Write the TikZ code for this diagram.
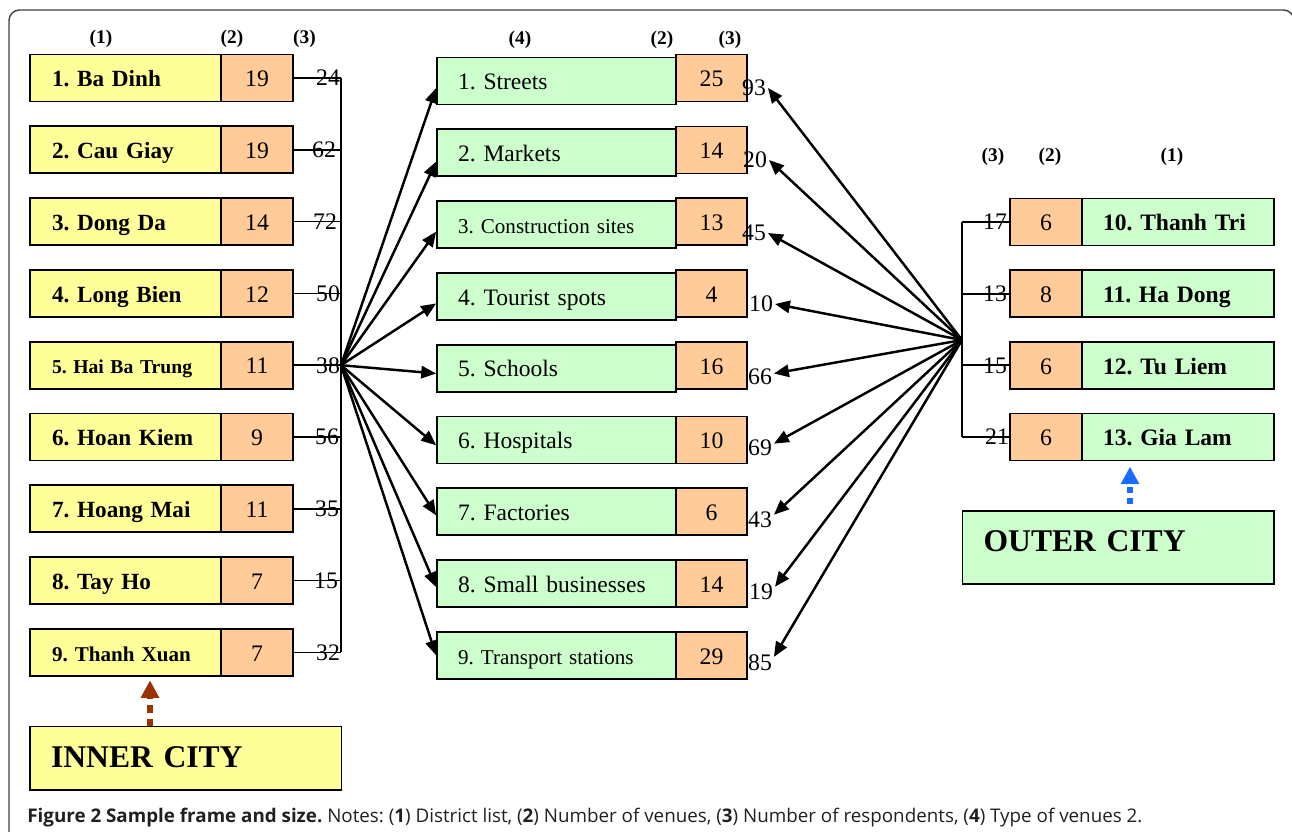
\documentclass[tikz,border=0pt]{standalone}
\usepackage{fontspec}
\setmainfont{Liberation Serif}
\newfontfamily\capfont{Open Sans}
\usetikzlibrary{arrows.meta}
\definecolor{distyellow}{HTML}{FFFF99}
\definecolor{venueorange}{HTML}{FFCC99}
\definecolor{typegreen}{HTML}{CCFFCC}
\definecolor{innerbrown}{HTML}{993300}
\definecolor{outerblue}{HTML}{1A6BFF}
\definecolor{captext}{HTML}{231F20}
\frenchspacing

\begin{document}
\begin{tikzpicture}[x=0.02cm, y=-0.02cm,
    box/.style={draw, line width=1pt, minimum height=0.94cm, inner ysep=0pt, text height=10pt, text depth=0pt},
    dist/.style={box, fill=distyellow, minimum width=3.82cm, text width=2.94cm, inner xsep=0.44cm, align=left, font=\bfseries\fontsize{13.2}{15}\selectfont},
    rdist/.style={box, fill=typegreen, minimum width=3.84cm, text width=3.0cm, inner xsep=0.42cm, align=left, font=\bfseries\fontsize{13.4}{15}\selectfont},
    vtype/.style={box, fill=typegreen, minimum width=4.78cm, text width=3.94cm, inner xsep=0.42cm, align=left, font=\fontsize{13.4}{15}\selectfont},
    num/.style={box, fill=venueorange, minimum width=1.44cm, font=\fontsize{13.5}{15}\selectfont},
    city/.style={draw, line width=1pt, minimum width=6.23cm, text width=5.39cm, inner xsep=0.42cm, inner ysep=0pt, align=left, font=\bfseries\fontsize{18}{20}\selectfont},
    resp/.style={inner sep=1pt, font=\fontsize{13.5}{15}\selectfont},
    hdr/.style={font=\bfseries\fontsize{11}{13}\selectfont},
    link/.style={line width=1pt},
    fan/.style={line width=1.4pt, -{Triangle[length=8.5pt,width=7pt]}},
    dotarr/.style={line width=3.4pt, dash pattern=on 3.4pt off 3.1pt, -{Triangle[length=10pt,width=10pt]}}
]
\useasboundingbox (0,0) rectangle (1292,832);
\draw[line width=0.8pt, draw=black!75, rounded corners=6pt] (9,850) -- (9,10) -- (1294,10) -- (1294,850);

\node[hdr] (h1) at (101,39) {(1)};
\node[hdr] (h2) at (232,39) {(2)};
\node[hdr] (h3) at (304.5,39) {(3)};
\node[hdr] (h4) at (520,40) {(4)};
\node[hdr] (h5) at (662,40) {(2)};
\node[hdr] (h6) at (730,40) {(3)};
\node[hdr] (h7) at (993,157) {(3)};
\node[hdr] (h8) at (1050,157) {(2)};
\node[hdr] (h9) at (1172,157) {(1)};

\node[dist] (d1) at (125.5,78) {1. Ba Dinh};
\node[num] (n1) at (257,78) {19};
\node[dist] (d2) at (125.5,149.8) {2. Cau Giay};
\node[num] (n2) at (257,149.8) {19};
\node[dist] (d3) at (125.5,221.6) {3. Dong Da};
\node[num] (n3) at (257,221.6) {14};
\node[dist] (d4) at (125.5,293.4) {4. Long Bien};
\node[num] (n4) at (257,293.4) {12};
\node[dist, font=\bfseries\fontsize{11.2}{13}\selectfont] (d5) at (125.5,365.2) {5. Hai Ba Trung};
\node[num] (n5) at (257,365.2) {11};
\node[dist] (d6) at (125.5,437) {6. Hoan Kiem};
\node[num] (n6) at (257,437) {9};
\node[dist] (d7) at (125.5,508.8) {7. Hoang Mai};
\node[num] (n7) at (257,508.8) {11};
\node[dist] (d8) at (125.5,580.6) {8. Tay Ho};
\node[num] (n8) at (257,580.6) {7};
\node[dist, font=\bfseries\fontsize{12}{14}\selectfont] (d9) at (125.5,652.4) {9. Thanh Xuan};
\node[num] (n9) at (257,652.4) {7};

\coordinate (bl1) at (341,78);
\coordinate (bl2) at (341,149.8);
\coordinate (bl3) at (341,221.6);
\coordinate (bl4) at (341,293.4);
\coordinate (bl5) at (341,365.2);
\coordinate (bl6) at (341,437);
\coordinate (bl7) at (341,508.8);
\coordinate (bl8) at (341,580.6);
\coordinate (bl9) at (341,652.4);
\draw[link] (n1.east) -- (bl1);
\draw[link] (n2.east) -- (bl2);
\draw[link] (n3.east) -- (bl3);
\draw[link] (n4.east) -- (bl4);
\draw[link] (n5.east) -- (bl5);
\draw[link] (n6.east) -- (bl6);
\draw[link] (n7.east) -- (bl7);
\draw[link] (n8.east) -- (bl8);
\draw[link] (n9.east) -- (bl9);
\draw[link] (bl1) -- (bl9);
\node[resp] (l1) at (328,78) {24};
\node[resp] (l2) at (324,149.8) {62};
\node[resp] (l3) at (325,221.6) {72};
\node[resp] (l4) at (328,293.4) {50};
\node[resp] (l5) at (328,366) {38};
\node[resp] (l6) at (327,437) {56};
\node[resp] (l7) at (327,508.8) {35};
\node[resp] (l8) at (326,580.6) {15};
\node[resp] (l9) at (328,652.4) {32};

\node[vtype] (t1) at (556.5,81) {1. Streets};
\node[num, minimum width=1.43cm] (v1) at (711.5,78) {25};
\node[vtype] (t2) at (556.5,152.8) {2. Markets};
\node[num, minimum width=1.43cm] (v2) at (711.5,150) {14};
\node[vtype, font=\fontsize{12}{14}\selectfont] (t3) at (556.5,224.6) {3. Construction sites};
\node[num, minimum width=1.43cm] (v3) at (711.5,221.7) {13};
\node[vtype] (t4) at (556.5,296.4) {4. Tourist spots};
\node[num, minimum width=1.43cm] (v4) at (711.5,293.4) {4};
\node[vtype] (t5) at (556.5,368.2) {5. Schools};
\node[num, minimum width=1.43cm] (v5) at (711.5,365.5) {16};
\node[vtype] (t6) at (556.5,440) {6. Hospitals};
\node[num, minimum width=1.43cm] (v6) at (711.5,440) {10};
\node[vtype] (t7) at (556.5,511.8) {7. Factories};
\node[num, minimum width=1.43cm] (v7) at (711.5,511.8) {6};
\node[vtype] (t8) at (556.5,583.6) {8. Small businesses};
\node[num, minimum width=1.43cm] (v8) at (711.5,583.6) {14};
\node[vtype, font=\fontsize{12}{14}\selectfont] (t9) at (556.5,655.4) {9. Transport stations};
\node[num, minimum width=1.43cm] (v9) at (711.5,655.4) {29};

\draw[fan] (bl5) -- ([yshift=-4pt]t1.west);
\draw[fan] (bl5) -- ([yshift=-5pt]t2.west);
\draw[fan] (bl5) -- ([yshift=-4pt]t3.west);
\draw[fan] (bl5) -- ([yshift=-4pt]t4.west);
\draw[fan] (bl5) -- ([yshift=-3pt]t5.west);
\draw[fan] (bl5) -- ([yshift=-3pt]t6.west);
\draw[fan] (bl5) -- ([yshift=-2pt]t7.west);
\draw[fan] (bl5) -- ([yshift=-2pt]t8.west);
\draw[fan] (bl5) -- (t9.west);

\node[resp] (r1) at (754,88) {93};
\node[resp] (r2) at (755,160) {20};
\node[resp] (r3) at (754,233) {45};
\node[resp] (r4) at (761,304) {10};
\node[resp] (r5) at (760,377) {66};
\node[resp] (r6) at (760,448) {69};
\node[resp] (r7) at (760,520) {43};
\node[resp] (r8) at (761,592) {19};
\node[resp] (r9) at (760,663) {85};

\node[num] (w1) at (1046,222) {6};
\node[rdist] (e1) at (1178,222) {10. Thanh Tri};
\node[num] (w2) at (1046,293.7) {8};
\node[rdist] (e2) at (1178,293.7) {11. Ha Dong};
\node[num] (w3) at (1046,365.3) {6};
\node[rdist] (e3) at (1178,365.3) {12. Tu Liem};
\node[num] (w4) at (1046,437) {6};
\node[rdist] (e4) at (1178,437) {13. Gia Lam};

\coordinate (br1) at (962,222);
\coordinate (br2) at (962,293.7);
\coordinate (br3) at (962,365.3);
\coordinate (br4) at (962,437);
\coordinate (fanR) at (962,340);
\draw[link] (br1) -- (w1.west);
\draw[link] (br2) -- (w2.west);
\draw[link] (br3) -- (w3.west);
\draw[link] (br4) -- (w4.west);
\draw[link] (br1) -- (br4);
\node[resp] (s1) at (995,222) {17};
\node[resp] (s2) at (995,293.7) {13};
\node[resp] (s3) at (995,365.3) {15};
\node[resp] (s4) at (997,437) {21};

\draw[fan] (fanR) -- (r1.east);
\draw[fan] (fanR) -- (r2.east);
\draw[fan] (fanR) -- (r3.east);
\draw[fan] (fanR) -- (r4.east);
\draw[fan] (fanR) -- ([yshift=2pt]r5.east);
\draw[fan] (fanR) -- ([yshift=2.5pt]r6.east);
\draw[fan] (fanR) -- ([yshift=3pt]r7.east);
\draw[fan] (fanR) -- ([yshift=3pt]r8.east);
\draw[fan] (fanR) -- ([yshift=3.5pt]r9.east);

\node[city, fill=typegreen, minimum height=1.46cm, text height=12pt, text depth=7.4pt] (outer) at (1118.3,547.5) {OUTER CITY};
\coordinate (outerarr) at (1130,504);
\draw[dotarr, outerblue] (outerarr) -- (outerarr |- e4.south) [shorten >=3pt];

\draw[dotarr, innerbrown, dash pattern=on 4.5pt off 3.5pt] (150,727) coordinate (innerarr) -- (innerarr |- d9.south) [shorten >=2pt];
\node[city, fill=distyellow, minimum height=1.27cm, text height=11pt, text depth=0pt] (inner) at (185.8,758.3) {INNER CITY};

\node[anchor=base west, inner sep=0pt, text=captext, font=\capfont\fontsize{10.7}{12}\selectfont] (cap) at (27,822.7) {\textbf{Figure 2 Sample frame and size.} Notes: (\textbf{1}) District list, (\textbf{2}) Number of venues, (\textbf{3}) Number of respondents, (\textbf{4}) Type of venues 2.};

\end{tikzpicture}
\end{document}
